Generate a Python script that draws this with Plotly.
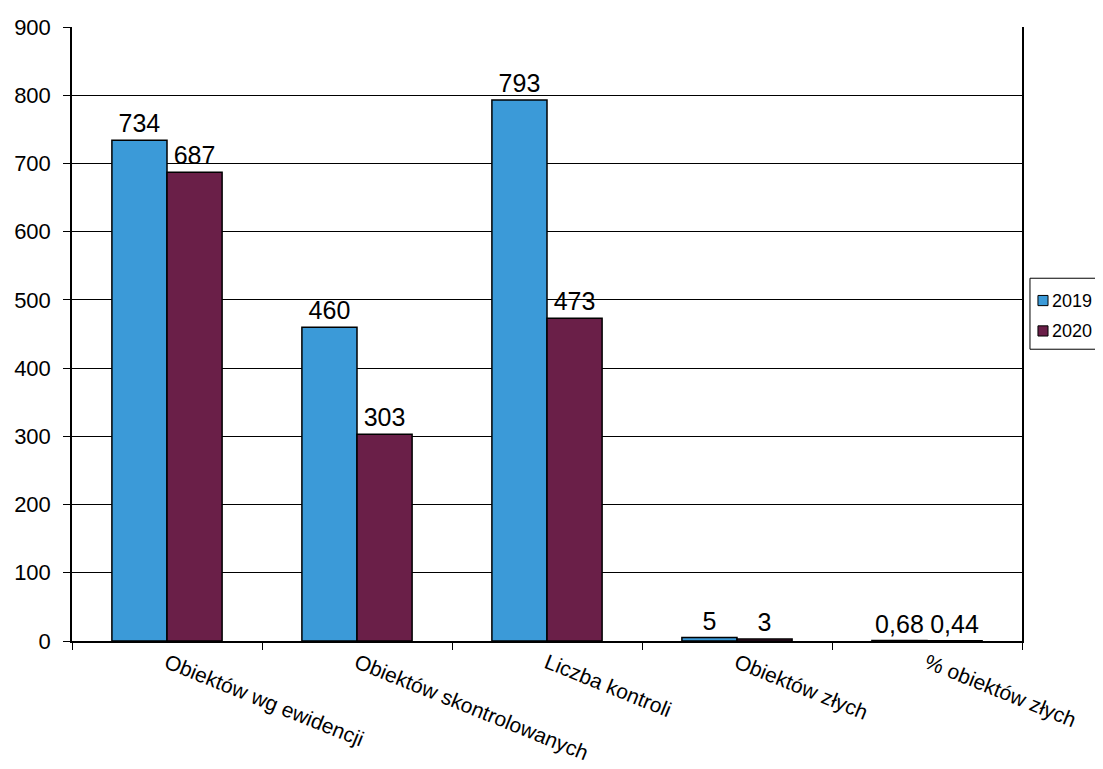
import plotly.graph_objects as go

categories = ["Obiektów wg ewidencji", "Obiektów skontrolowanych", "Liczba kontroli",
              "Obiektów złych", "% obiektów złych"]
values_2019 = [734, 460, 793, 5, 0.68]
values_2020 = [687, 303, 473, 3, 0.44]
labels_2019 = ["734", "460", "793", "5", "0,68"]
labels_2020 = ["687", "303", "473", "3", "0,44"]
series_names = ["2019", "2020"]
series_colors = ["#3b9ad8", "#6a1f48"]
y_ticks = [0, 100, 200, 300, 400, 500, 600, 700, 800, 900]

fig = go.Figure()
for name, vals, labs, col in zip(series_names, [values_2019, values_2020],
                                 [labels_2019, labels_2020], series_colors):
    fig.add_trace(go.Bar(
        name=name, x=categories, y=vals, text=labs,
        textposition="outside", marker=dict(color=col, line=dict(color="black", width=1.5)),
        textfont=dict(size=25, color="black"), cliponaxis=False, showlegend=False,
    ))

# manual legend (Plotly's built-in legend is too wide to fit at the page edge)
shapes = [dict(type="rect", xref="paper", yref="paper", x0=1.0084, x1=1.09,
               y0=0.4752, y1=0.5908, line=dict(color="black", width=1), fillcolor="white")]
annotations = []
for i, (name, col) in enumerate(zip(series_names, series_colors)):
    yc = 0.5545 - i * 0.0495
    shapes.append(dict(type="rect", xref="paper", yref="paper", x0=1.0168, x1=1.0274,
                       y0=yc - 0.0083, y1=yc + 0.0083, fillcolor=col,
                       line=dict(color="black", width=1)))
    annotations.append(dict(xref="paper", yref="paper", x=1.0295, y=yc, text=name,
                            showarrow=False, xanchor="left", yanchor="middle",
                            font=dict(size=18, color="black")))

fig.update_layout(
    width=1095, height=761,
    margin=dict(l=64, r=81, t=19, b=128, autoexpand=False),
    paper_bgcolor="white", plot_bgcolor="white",
    font=dict(family="Liberation Sans, Arial", color="black"),
    barmode="group", bargap=0.42, bargroupgap=0,
    showlegend=False, shapes=shapes, annotations=annotations,
)
fig.update_xaxes(
    showline=True, linecolor="black", linewidth=1.5, mirror=False,
    ticks="outside", tickson="boundaries", ticklen=7, tickcolor="black",
    tickangle=22, tickfont=dict(size=21), showgrid=False,
)
fig.update_yaxes(
    range=[0, 900], tickvals=y_ticks, showline=True, linecolor="black", linewidth=1.5,
    mirror=True, ticks="outside", ticklen=7, tickcolor="black", ticklabelstandoff=8,
    showgrid=True, gridcolor="black", gridwidth=1, tickfont=dict(size=22),
    zeroline=False,
)
fig.write_html("out.html")
